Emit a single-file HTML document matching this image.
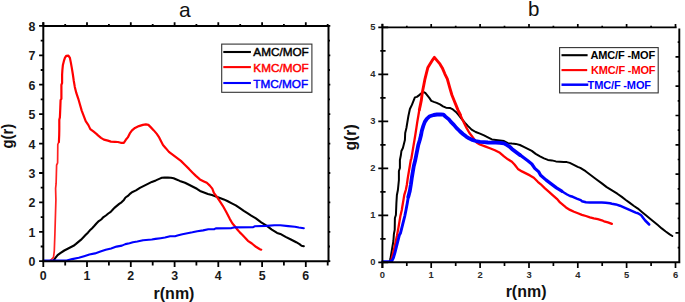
<!DOCTYPE html>
<html><head><meta charset="utf-8"><style>
html,body{margin:0;padding:0;background:#fff;}
body{width:685px;height:302px;overflow:hidden;font-family:"Liberation Sans", sans-serif;}
svg{display:block;}
</style></head><body>
<svg width="685" height="302" viewBox="0 0 685 302" font-family='"Liberation Sans", sans-serif'>
<rect x="0" y="0" width="685" height="302" fill="#fff"/>
<polyline points="51.5,261.0 53.7,260.4 55.0,258.4 57.6,255.1 60.3,253.1 64.3,250.5 68.2,248.5 73.5,245.8 76.0,243.9 78.4,241.9 80.8,239.9 83.2,237.5 85.5,235.1 87.9,232.7 89.9,230.3 91.9,228.4 94.2,226.0 96.4,223.5 98.8,221.1 101.2,219.5 103.5,217.1 105.9,215.5 108.3,213.5 110.7,211.9 113.1,209.3 114.4,207.9 116.8,205.9 119.2,203.9 121.5,202.3 123.9,199.9 125.5,197.5 127.9,195.9 130.3,193.6 132.0,192.2 136.0,190.4 139.9,187.9 143.9,185.9 147.9,183.9 151.8,181.9 155.8,180.4 159.8,178.6 161.8,177.8 164.5,177.6 168.0,177.6 171.0,177.7 173.6,178.3 176.5,179.5 179.8,180.9 185.0,182.8 189.0,184.8 192.9,186.8 196.9,188.8 200.0,190.9 204.0,192.4 207.9,193.9 211.9,195.1 215.9,196.4 219.9,197.9 223.8,199.4 227.8,201.3 231.8,203.4 235.8,205.4 239.9,208.2 243.8,210.9 247.8,213.4 251.2,215.6 255.9,218.3 261.2,222.3 266.5,225.6 271.8,229.6 277.1,232.9 280.3,233.9 285.6,236.9 290.9,239.5 296.2,242.2 299.5,244.1 301.5,245.7 303.8,246.3" fill="none" stroke="#000" stroke-width="2.1" stroke-linejoin="round" stroke-linecap="round"/>
<polyline points="50.0,260.6 51.5,259.3 53.5,257.4 54.3,250.8 54.9,233.9 55.4,217.0 55.9,200.0 55.6,188.4 56.1,183.7 56.6,165.2 57.6,162.8 57.8,144.3 58.9,142.0" fill="none" stroke="#ff2020" stroke-width="1.7" stroke-linejoin="round" stroke-linecap="round"/>
<polyline points="58.9,142.0 59.2,135.0 59.3,129.1 59.3,119.8 59.9,117.2 60.3,107.9 60.6,100.0 61.4,98.8 61.4,84.9 62.1,83.0 62.1,75.0 62.4,69.8 62.9,64.9 63.9,60.9 64.9,57.9 66.2,55.8 68.4,55.6 69.9,57.9 70.9,62.9 71.8,67.9 72.8,74.0 73.8,81.0 74.8,86.9 76.3,92.9 78.3,98.8 79.8,104.0 81.7,110.6 83.7,115.9 85.7,121.2 88.4,125.1 90.3,129.1 93.7,131.7 97.0,134.4 98.0,135.4 101.0,137.9 103.9,139.6 107.9,140.6 110.9,141.6 114.9,141.8 117.8,142.0 120.8,142.8 123.8,142.8 125.8,139.8 127.8,137.4 129.8,133.4 132.0,130.4 135.0,127.9 138.9,126.1 142.9,124.9 145.9,124.4 148.4,124.9 150.9,127.4 153.8,130.4 156.8,133.9 158.8,136.8 160.8,140.8 163.0,145.0 166.0,148.4 168.9,151.9 172.9,154.9 176.9,157.9 180.9,160.9 184.8,164.8 189.0,168.9 192.9,172.9 195.9,175.9 199.9,179.4 203.9,181.4 206.8,182.8 209.8,185.6 212.3,188.6 213.9,192.9 216.9,196.9 219.9,201.4 222.8,205.8 226.0,211.5 229.9,219.1 232.3,223.3 234.8,226.2 237.3,229.5 239.8,232.4 242.5,235.0 245.3,237.9 247.9,240.8 251.9,243.5 255.9,246.8 259.9,249.2 261.2,249.7" fill="none" stroke="#ff0000" stroke-width="2.2" stroke-linejoin="round" stroke-linecap="round"/>
<polyline points="43.3,260.6 66.7,260.6 72.2,259.1 78.8,257.8 84.1,256.2 89.4,254.5 95.0,253.4 100.4,251.6 105.7,249.8 111.1,248.4 116.5,246.6 121.9,245.6 125.4,244.1 129.5,243.2 132.9,242.2 137.3,241.5 143.1,240.2 151.8,239.5 155.5,238.9 160.6,238.2 165.0,237.5 170.1,236.3 175.0,236.2 178.3,235.3 182.4,234.2 187.4,233.3 192.4,232.3 197.3,231.2 203.1,230.4 208.3,229.3 214.1,229.2 215.8,228.4 231.5,228.1 234.0,227.4 253.2,227.2 254.6,226.3 266.5,225.9 274.4,225.3 280.3,225.3 288.2,226.1 294.9,226.7 298.8,227.5 303.8,228.2" fill="none" stroke="#0000ff" stroke-width="2.1" stroke-linejoin="round" stroke-linecap="round"/>
<path d="M43.3,22.299999999999997V262.2 M42.3,25.9H329.5 M328.5,24.9V262.2 M42.3,261.2H329.5" stroke="#000" stroke-width="2.0" fill="none"/>
<path d="M43.3,261.2V267.0 M43.3,25.9V22.3 M65.2,261.2V265.5 M65.2,25.9V24.1 M87.0,261.2V267.0 M87.0,25.9V22.3 M108.9,261.2V265.5 M108.9,25.9V24.1 M130.8,261.2V267.0 M130.8,25.9V22.3 M152.7,261.2V265.5 M152.7,25.9V24.1 M174.6,261.2V267.0 M174.6,25.9V22.3 M196.4,261.2V265.5 M196.4,25.9V24.1 M218.3,261.2V267.0 M218.3,25.9V22.3 M240.2,261.2V265.5 M240.2,25.9V24.1 M262.1,261.2V267.0 M262.1,25.9V22.3 M283.9,261.2V265.5 M283.9,25.9V24.1 M305.8,261.2V267.0 M305.8,25.9V22.3 M327.7,261.2V265.5 M327.7,25.9V24.1 M43.3,261.2H39.1 M328.5,261.2H330.3 M43.3,246.5H40.7 M328.5,246.5H329.9 M43.3,231.8H39.1 M328.5,231.8H330.3 M43.3,217.1H40.7 M328.5,217.1H329.9 M43.3,202.4H39.1 M328.5,202.4H330.3 M43.3,187.7H40.7 M328.5,187.7H329.9 M43.3,173.0H39.1 M328.5,173.0H330.3 M43.3,158.3H40.7 M328.5,158.3H329.9 M43.3,143.6H39.1 M328.5,143.6H330.3 M43.3,128.9H40.7 M328.5,128.9H329.9 M43.3,114.1H39.1 M328.5,114.1H330.3 M43.3,99.4H40.7 M328.5,99.4H329.9 M43.3,84.7H39.1 M328.5,84.7H330.3 M43.3,70.0H40.7 M328.5,70.0H329.9 M43.3,55.3H39.1 M328.5,55.3H330.3 M43.3,40.6H40.7 M328.5,40.6H329.9 M43.3,25.9H39.1 M328.5,25.9H330.3" stroke="#000" stroke-width="1.8" fill="none"/>
<text x="35.4" y="266.1" font-size="12.4" font-weight="bold" text-anchor="end" fill="#1a1a1a">0</text>
<text x="35.4" y="236.7" font-size="12.4" font-weight="bold" text-anchor="end" fill="#1a1a1a">1</text>
<text x="35.4" y="207.3" font-size="12.4" font-weight="bold" text-anchor="end" fill="#1a1a1a">2</text>
<text x="35.4" y="177.9" font-size="12.4" font-weight="bold" text-anchor="end" fill="#1a1a1a">3</text>
<text x="35.4" y="148.5" font-size="12.4" font-weight="bold" text-anchor="end" fill="#1a1a1a">4</text>
<text x="35.4" y="119.0" font-size="12.4" font-weight="bold" text-anchor="end" fill="#1a1a1a">5</text>
<text x="35.4" y="89.6" font-size="12.4" font-weight="bold" text-anchor="end" fill="#1a1a1a">6</text>
<text x="35.4" y="60.2" font-size="12.4" font-weight="bold" text-anchor="end" fill="#1a1a1a">7</text>
<text x="35.4" y="30.8" font-size="12.4" font-weight="bold" text-anchor="end" fill="#1a1a1a">8</text>
<text x="43.3" y="279.9" font-size="12.4" font-weight="bold" text-anchor="middle" fill="#1a1a1a">0</text>
<text x="87.0" y="279.9" font-size="12.4" font-weight="bold" text-anchor="middle" fill="#1a1a1a">1</text>
<text x="130.8" y="279.9" font-size="12.4" font-weight="bold" text-anchor="middle" fill="#1a1a1a">2</text>
<text x="174.6" y="279.9" font-size="12.4" font-weight="bold" text-anchor="middle" fill="#1a1a1a">3</text>
<text x="218.3" y="279.9" font-size="12.4" font-weight="bold" text-anchor="middle" fill="#1a1a1a">4</text>
<text x="262.1" y="279.9" font-size="12.4" font-weight="bold" text-anchor="middle" fill="#1a1a1a">5</text>
<text x="305.8" y="279.9" font-size="12.4" font-weight="bold" text-anchor="middle" fill="#1a1a1a">6</text>
<text x="184.8" y="16.6" font-size="21" text-anchor="middle" fill="#111">a</text>
<text transform="translate(174,298.9) scale(1,1.06)" x="0" y="0" font-size="16" font-weight="bold" text-anchor="middle" fill="#111">r(nm)</text>
<text transform="translate(13.2,136.2) rotate(-90) scale(0.93,1)" x="0" y="0" font-size="16" font-weight="bold" text-anchor="middle" fill="#111">g(r)</text>
<rect x="221.7" y="44.1" width="90.2" height="48.2" fill="#fff" stroke="#333" stroke-width="1.1"/>
<line x1="223.3" y1="52.0" x2="250.9" y2="52.0" stroke="#000" stroke-width="2.1"/>
<text x="253.3" y="56.3" font-size="11.75" font-weight="normal" letter-spacing="0" stroke="#000" stroke-width="0.45" fill="#000">AMC/MOF</text>
<line x1="223.3" y1="67.1" x2="250.9" y2="67.1" stroke="#ff0000" stroke-width="2.1"/>
<text x="253.3" y="72.1" font-size="11.75" font-weight="normal" letter-spacing="0" stroke="#ff0000" stroke-width="0.45" fill="#ff0000">KMC/MOF</text>
<line x1="223.3" y1="83.0" x2="250.9" y2="83.0" stroke="#0000ff" stroke-width="2.1"/>
<text x="253.3" y="87.6" font-size="11.75" font-weight="normal" letter-spacing="0" stroke="#0000ff" stroke-width="0.45" fill="#0000ff">TMC/MOF</text>
<polyline points="388.5,262.0 389.9,261.3 390.4,258.8 391.4,252.9 392.4,246.9 393.4,241.0 393.9,234.0 394.7,229.9 394.9,218.0 395.9,215.0 396.2,208.0 396.4,203.0 396.9,195.0 397.9,190.0 398.4,185.0 398.9,180.0 398.9,171.0 399.9,168.0 399.9,160.0 400.9,155.0 401.4,151.0 402.9,148.0 403.9,144.0 404.9,140.0 405.2,133.0 406.4,128.0 407.4,122.0 408.4,116.0 409.9,109.0 411.9,104.9 413.9,99.9 414.9,97.4 416.9,96.9 418.9,95.4 421.4,93.4 423.3,92.0 425.3,92.9 427.3,95.4 429.3,97.9 431.3,100.9 433.8,101.9 436.7,102.9 440.0,104.4 443.0,106.4 446.0,107.7 449.9,107.9 452.9,109.4 455.9,111.9 458.9,115.4 461.8,119.0 464.8,122.6 467.6,125.6 471.6,129.6 475.7,132.0 480.0,133.6 484.0,135.4 487.9,137.4 491.9,139.4 495.9,139.9 499.9,140.4 504.0,141.0 507.9,143.2 511.9,143.6 515.8,143.9 519.9,145.0 523.8,146.9 527.8,148.9 531.8,150.9 535.7,153.9 540.0,156.4 544.0,158.4 547.9,159.9 551.9,160.4 555.9,161.4 559.9,161.7 563.8,162.1 566.8,162.1 569.8,162.9 573.8,164.9 577.7,166.9 580.3,167.9 585.6,171.2 590.9,175.2 596.2,179.2 601.5,183.1 606.7,187.1 612.0,190.4 617.3,193.7 621.8,196.9 625.8,200.0 629.8,202.9 634.0,206.0 637.9,208.6 641.9,211.9 645.9,215.2 649.8,218.5 653.8,221.8 657.8,225.1 661.7,228.4 665.7,231.5 669.7,234.4 672.3,236.0" fill="none" stroke="#000" stroke-width="2.0" stroke-linejoin="round" stroke-linecap="round"/>
<polyline points="391.0,261.5 393.9,249.9 395.4,243.0 396.9,236.0 398.4,227.9 399.4,221.9 400.4,216.0 401.8,210.0 402.3,206.8 403.3,200.9 404.3,194.9 405.8,190.0 406.8,185.0 407.8,177.9 408.8,171.9 409.8,166.0 410.8,160.0 411.4,158.3 412.3,152.9 413.3,146.9 414.3,141.0 415.3,135.0 416.4,127.9 417.3,121.9 418.3,116.0 419.3,110.0" fill="none" stroke="#ff0000" stroke-width="2.3" stroke-linejoin="round" stroke-linecap="round"/>
<polyline points="419.3,110.0 420.4,104.9 421.4,99.9 422.0,94.9 422.8,90.0 423.8,85.0 425.0,78.8 426.5,72.8 427.9,67.4 429.4,64.9 431.9,60.9 434.4,57.4 436.9,60.4 439.9,63.9 442.3,67.9 444.8,73.8 447.3,78.8 449.8,87.8 451.9,95.0 453.9,100.0 455.9,104.9 457.9,109.9 460.4,115.0" fill="none" stroke="#ff0000" stroke-width="2.9" stroke-linejoin="round" stroke-linecap="round"/>
<polyline points="460.4,115.0 462.3,119.2 464.3,123.4 466.5,127.9 469.3,132.8 471.6,135.8 476.5,142.4 479.9,144.5 485.0,146.4 489.9,148.3 494.9,150.3 499.9,152.8 504.0,156.4 507.9,159.3 511.9,161.8 514.5,164.5 517.9,168.9 521.9,171.4 525.9,173.4 529.9,175.4 533.8,177.8 537.8,181.8 540.8,184.3 545.0,188.4 549.0,191.8 552.9,195.3 556.9,198.8 560.0,202.4 566.0,207.4 570.0,209.9 574.0,211.8 577.9,213.3 581.9,214.8 585.9,216.0 589.9,217.3 593.8,218.3 597.8,219.2 601.8,220.3 604.0,221.3 607.9,222.3 611.9,223.8" fill="none" stroke="#ff0000" stroke-width="2.3" stroke-linejoin="round" stroke-linecap="round"/>
<polyline points="382.6,261.6 389.9,261.6 391.9,260.8 393.4,257.8 394.9,252.9 396.4,246.9 397.9,241.0 399.4,235.0 400.4,233.3 401.8,227.9 403.3,221.9 404.8,216.0 406.1,209.5 407.3,202.9 408.3,196.9" fill="none" stroke="#0000ff" stroke-width="2.9" stroke-linejoin="round" stroke-linecap="round"/>
<polyline points="408.3,196.9 409.8,191.0 410.8,185.0 411.8,177.9 412.8,171.9 413.8,166.0 415.3,160.0 416.3,154.9 417.3,149.9 418.3,144.9 419.8,140.0 421.0,135.3 421.8,130.9 423.3,125.9 424.8,121.9 426.8,118.9 429.8,116.2 433.7,115.0 437.0,114.5 441.0,114.3 443.5,114.6 445.5,116.6 448.9,119.4 450.9,121.9 453.9,124.9 456.4,127.9 459.6,131.0 462.9,134.0 466.2,136.6 469.0,138.3 471.6,139.6 475.7,141.0 479.9,141.9 484.0,142.2 487.9,142.5 491.9,142.7 495.9,142.7 499.9,142.9 504.0,143.3 506.8,144.9 507.9,145.6 509.8,146.8 511.9,148.9 515.9,151.9 519.9,154.9" fill="none" stroke="#0000ff" stroke-width="3.8" stroke-linejoin="round" stroke-linecap="round"/>
<polyline points="519.9,154.9 523.8,157.8 527.8,160.8 531.8,164.0 534.8,168.4 538.8,171.9 540.6,175.3 545.9,179.9 551.2,183.9 556.5,187.9 561.8,191.2" fill="none" stroke="#0000ff" stroke-width="3.2" stroke-linejoin="round" stroke-linecap="round"/>
<polyline points="561.8,191.2 567.1,194.5 570.0,196.0 572.8,196.8 576.8,198.6 580.7,200.1 581.9,201.2 585.9,202.3 589.9,202.6 593.8,202.6 597.8,202.6 601.8,202.6 605.7,202.8 610.0,203.3 611.9,203.7 615.9,204.4 619.9,205.7 623.8,207.4 627.8,209.1 631.8,210.9 635.7,212.6 637.9,213.2 641.2,215.2 643.2,217.9 645.2,220.5 647.2,222.5 649.2,224.5" fill="none" stroke="#0000ff" stroke-width="2.5" stroke-linejoin="round" stroke-linecap="round"/>
<path d="M382.4,23.799999999999997V268.1 M381.4,27.4H676.5999999999999 M679.3,28.599999999999998V263.3 M381.4,262.3H680.3" stroke="#000" stroke-width="1.9" fill="none"/>
<path d="M382.4,262.3V268.1 M382.4,27.4V24.0 M406.8,262.3V266.1 M406.8,27.4V25.8 M431.2,262.3V268.1 M431.2,27.4V24.0 M455.7,262.3V266.1 M455.7,27.4V25.8 M480.1,262.3V268.1 M480.1,27.4V24.0 M504.5,262.3V266.1 M504.5,27.4V25.8 M529.0,262.3V268.1 M529.0,27.4V24.0 M553.4,262.3V266.1 M553.4,27.4V25.8 M577.8,262.3V268.1 M577.8,27.4V24.0 M602.2,262.3V266.1 M602.2,27.4V25.8 M626.6,262.3V268.1 M626.6,27.4V24.0 M651.1,262.3V266.1 M651.1,27.4V25.8 M675.5,262.3V268.1 M675.5,27.4V24.0 M378.3,262.3H388.2 M380.3,238.8H385.6 M378.3,215.3H388.2 M380.3,191.8H385.6 M378.3,168.3H388.2 M380.3,144.8H385.6 M378.3,121.3H388.2 M380.3,97.8H385.6 M378.3,74.3H388.2 M380.3,50.8H385.6 M378.3,27.3H388.2 M679.3,247.6H677.7 M679.3,232.9H675.5 M679.3,218.3H677.7 M679.3,203.6H675.5 M679.3,188.9H677.7 M679.3,174.2H675.5 M679.3,159.5H677.7 M679.3,144.9H675.5 M679.3,130.2H677.7 M679.3,115.5H675.5 M679.3,100.8H677.7 M679.3,86.1H675.5 M679.3,71.4H677.7 M679.3,56.8H675.5 M679.3,42.1H677.7" stroke="#000" stroke-width="1.7" fill="none"/>
<text x="375.4" y="265.2" font-size="9.4" font-weight="bold" text-anchor="end" fill="#2a2a2a">0</text>
<text x="375.4" y="218.2" font-size="9.4" font-weight="bold" text-anchor="end" fill="#2a2a2a">1</text>
<text x="375.4" y="171.2" font-size="9.4" font-weight="bold" text-anchor="end" fill="#2a2a2a">2</text>
<text x="375.4" y="124.2" font-size="9.4" font-weight="bold" text-anchor="end" fill="#2a2a2a">3</text>
<text x="375.4" y="77.2" font-size="9.4" font-weight="bold" text-anchor="end" fill="#2a2a2a">4</text>
<text x="375.4" y="30.2" font-size="9.4" font-weight="bold" text-anchor="end" fill="#2a2a2a">5</text>
<text x="382.4" y="278.2" font-size="9.4" font-weight="bold" text-anchor="middle" fill="#2a2a2a">0</text>
<text x="431.2" y="278.2" font-size="9.4" font-weight="bold" text-anchor="middle" fill="#2a2a2a">1</text>
<text x="480.1" y="278.2" font-size="9.4" font-weight="bold" text-anchor="middle" fill="#2a2a2a">2</text>
<text x="529.0" y="278.2" font-size="9.4" font-weight="bold" text-anchor="middle" fill="#2a2a2a">3</text>
<text x="577.8" y="278.2" font-size="9.4" font-weight="bold" text-anchor="middle" fill="#2a2a2a">4</text>
<text x="626.6" y="278.2" font-size="9.4" font-weight="bold" text-anchor="middle" fill="#2a2a2a">5</text>
<text x="675.5" y="278.2" font-size="9.4" font-weight="bold" text-anchor="middle" fill="#2a2a2a">6</text>
<text x="533.6" y="16.1" font-size="20.5" text-anchor="middle" fill="#111">b</text>
<text x="526.1" y="297.0" font-size="16" font-weight="bold" text-anchor="middle" fill="#111">r(nm)</text>
<text transform="translate(356.4,137.4) rotate(-90) scale(0.98,1)" x="0" y="0" font-size="16" font-weight="bold" text-anchor="middle" fill="#111">g(r)</text>
<rect x="559.6" y="47.6" width="98.6" height="45.3" fill="#fff" stroke="#333" stroke-width="1.1"/>
<line x1="561.5" y1="55.2" x2="587.6" y2="55.2" stroke="#000" stroke-width="2.1"/>
<text x="590.5" y="59.2" font-size="11" font-weight="bold" letter-spacing="-0.15" fill="#000">AMC/F -MOF</text>
<line x1="561.5" y1="70.1" x2="587.2" y2="70.1" stroke="#ff0000" stroke-width="2.1"/>
<text x="590.9" y="74.1" font-size="11" font-weight="bold" letter-spacing="-0.15" fill="#ff0000">KMC/F -MOF</text>
<line x1="561.5" y1="84.7" x2="588.3" y2="84.7" stroke="#0000ff" stroke-width="2.5"/>
<text x="587.6" y="88.7" font-size="11" font-weight="bold" letter-spacing="-0.15" fill="#0000ff">TMC/F -MOF</text>
</svg>
</body></html>
